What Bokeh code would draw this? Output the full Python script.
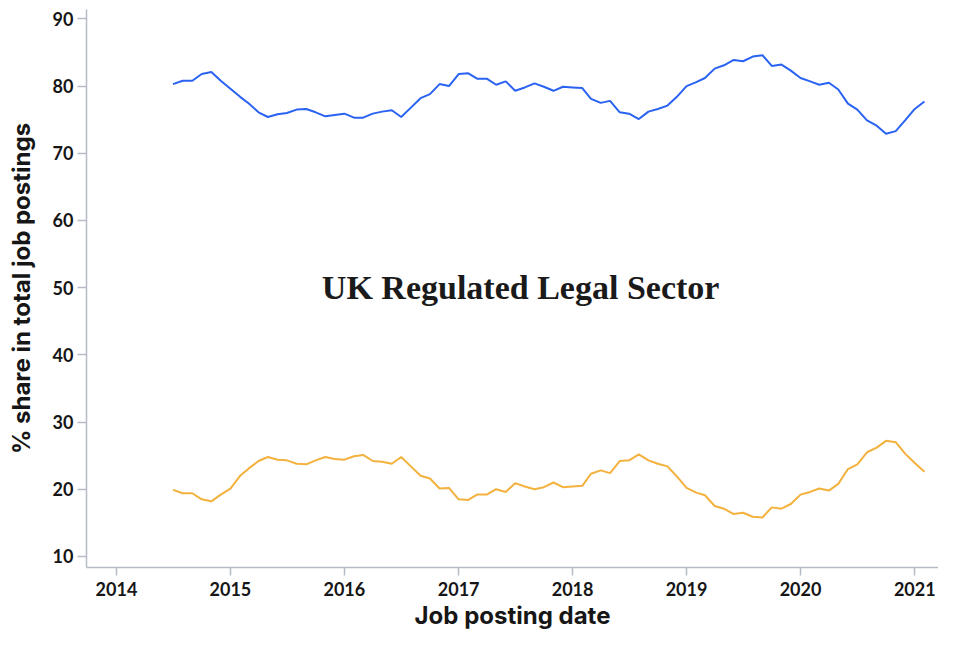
import pandas as pd
from bokeh.plotting import figure
from bokeh.models import FixedTicker, DatetimeTickFormatter, Label, Range1d, ColumnDataSource
from bokeh.embed import file_html
from bokeh.resources import INLINE

# ---- data ----
start_month = "2014-07-01"
legal_share = [
    80.3, 80.8, 80.8, 81.8, 82.1, 80.8,
    79.6, 78.4, 77.4, 76.1, 75.4, 75.8, 76.0, 76.5, 76.6, 76.1, 75.5, 75.7,
    75.9, 75.3, 75.3, 75.9, 76.2, 76.4, 75.4, 76.8, 78.2, 78.8, 80.3, 80.0,
    81.8, 81.9, 81.1, 81.1, 80.2, 80.7, 79.3, 79.8, 80.4, 79.9, 79.3, 79.9,
    79.8, 79.7, 78.1, 77.5, 77.8, 76.1, 75.9, 75.1, 76.2, 76.6, 77.1, 78.4,
    80.0, 80.6, 81.2, 82.6, 83.1, 83.9, 83.7, 84.4, 84.6, 83.0, 83.2, 82.3,
    81.2, 80.7, 80.2, 80.5, 79.5, 77.4, 76.5, 74.9, 74.1, 72.9, 73.3, 74.9,
    76.6, 77.7,
]
other_share = [
    19.9, 19.4, 19.4, 18.5, 18.2, 19.2,
    20.1, 22.0, 23.1, 24.2, 24.8, 24.4, 24.3, 23.8, 23.7, 24.3, 24.8, 24.5,
    24.4, 24.9, 25.1, 24.2, 24.1, 23.8, 24.8, 23.4, 22.0, 21.6, 20.1, 20.2,
    18.5, 18.4, 19.2, 19.2, 20.0, 19.6, 20.9, 20.4, 20.0, 20.3, 21.0, 20.3,
    20.4, 20.5, 22.3, 22.8, 22.4, 24.2, 24.3, 25.2, 24.3, 23.8, 23.4, 21.9,
    20.2, 19.5, 19.1, 17.5, 17.1, 16.3, 16.5, 15.9, 15.8, 17.3, 17.1, 17.8,
    19.2, 19.6, 20.1, 19.8, 20.8, 23.0, 23.7, 25.5, 26.2, 27.2, 27.0, 25.3,
    23.9, 22.6,
]
year_ticks = [2014, 2015, 2016, 2017, 2018, 2019, 2020, 2021]
y_ticks = [10, 20, 30, 40, 50, 60, 70, 80, 90]
chart_title = "UK Regulated Legal Sector"

dates = pd.date_range(start_month, periods=len(legal_share), freq="MS")
src = ColumnDataSource(dict(date=dates, legal=legal_share, other=other_share))

x_start = pd.Timestamp("2013-09-27")
x_end = pd.Timestamp("2021-03-18")
tick_font = "Lato"
title_font = "Inter"
axis_col = "#b7bbc6"

p = figure(width=938, height=632, x_axis_type="datetime",
           output_backend="svg", toolbar_location=None,
           x_range=Range1d(x_start, x_end), y_range=Range1d(8.35, 91.4),
           min_border_left=86, min_border_right=0, min_border_top=9, min_border_bottom=58)
p.outline_line_color = None
p.grid.visible = False
p.background_fill_color = "white"

p.line("date", "legal", source=src, line_color="#2a63f2", line_width=2)
p.line("date", "other", source=src, line_color="#f3b13d", line_width=2)

tick_ms = [pd.Timestamp(f"{y}-01-01").value // 10**6 for y in year_ticks]
p.xaxis.ticker = FixedTicker(ticks=tick_ms)
p.xaxis.formatter = DatetimeTickFormatter(years="%Y", months="%Y", days="%Y")
p.yaxis.ticker = FixedTicker(ticks=y_ticks)

for ax in (p.xaxis, p.yaxis):
    ax.axis_line_color = axis_col
    ax.major_tick_line_color = axis_col
    ax.minor_tick_line_color = None
    ax.major_tick_in = 0
    ax.major_label_text_font = tick_font
    ax.major_label_text_font_style = "bold"
    ax.major_label_text_color = "#161616"
    ax.major_label_text_font_size = "18px"
    ax.axis_label_text_font = title_font
    ax.axis_label_text_font_style = "bold"
    ax.axis_label_text_color = "#161616"
    ax.axis_label_text_font_size = "24px"
    ax.axis_line_width = 1.5
    ax.major_tick_line_width = 1.5

p.xaxis.major_tick_out = 8
p.xaxis.major_label_standoff = 6
p.xaxis.axis_label = "Job posting date"
p.xaxis.axis_label_standoff = 2

p.yaxis.major_tick_out = 9
p.yaxis.major_label_standoff = 4
p.yaxis.axis_label = "% share in total job postings"
p.yaxis.axis_label_standoff = 14

mid_x = x_start + (pd.Timestamp("2021-05-09") - x_start) / 2
mid_y = (y_ticks[0] + y_ticks[-1]) / 2
p.add_layout(Label(x=mid_x.value // 10**6, y=mid_y, text=chart_title,
                   text_font="Liberation Serif", text_font_style="bold",
                   text_font_size="34px", text_align="center", text_baseline="middle",
                   text_color="#1a1a1a"))

open("out.html", "w").write(file_html(p, INLINE))
